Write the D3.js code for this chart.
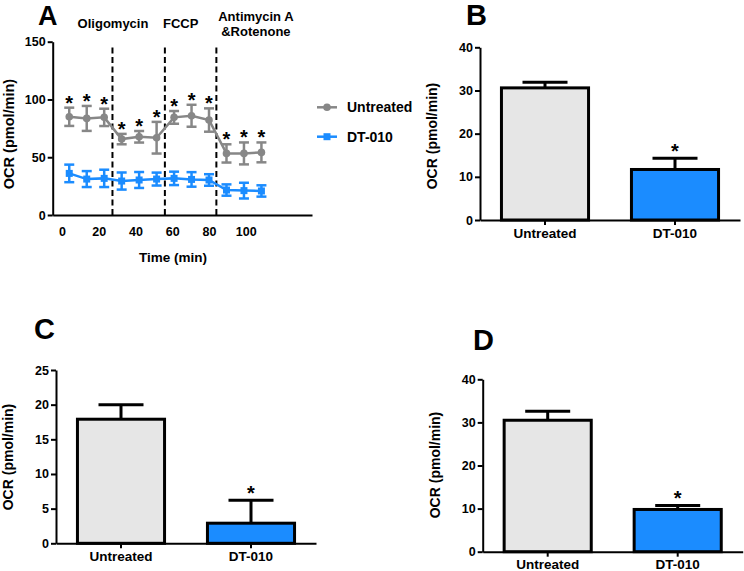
<!DOCTYPE html>
<html>
<head>
<meta charset="utf-8">
<script src="https://cdn.jsdelivr.net/npm/d3@7"></script>
<style>
  html, body { margin: 0; padding: 0; background: #fff; }
  svg { display: block; font-family: "Liberation Sans", Arial, sans-serif; font-weight: bold; }
</style>
</head>
<body>
<svg id="chart" width="744" height="571"></svg>
<script>
// ---------- Data ----------
// Panel A: time course
const times = [4, 13.5, 23, 32.5, 42, 51.5, 61, 70.5, 80, 89.5, 99, 108.5];
const untreatedMean = [85.0, 83.6, 84.5, 65.7, 67.7, 66.9, 84.5, 85.9, 82.2, 53.3, 53.3, 54.2];
const untreatedErr  = [7.9, 10.8, 7.5, 4.5, 5.0, 13.7, 5.5, 9.5, 10.1, 7.9, 9.5, 8.6];
const dt010Mean = [36.0, 31.1, 31.7, 29.4, 30.3, 31.1, 31.7, 30.8, 30.3, 21.6, 21.1, 20.8];
const dt010Err  = [7.6, 6.9, 7.5, 7.4, 6.9, 5.6, 5.8, 6.3, 5.0, 4.9, 6.8, 4.9];
const injectionTimes = [27.5, 56, 84];
const xTicksA = [0, 20, 40, 60, 80, 100];
const yTicksA = [0, 50, 100, 150];
const seriesNames = ["Untreated", "DT-010"];

// Panels B, C, D: bar charts
const groups = ["Untreated", "DT-010"];
const barsB = [30.6, 11.7];
const errB  = [1.3, 2.6];
const barsC = [17.9, 2.9];
const errC  = [2.1, 3.3];
const barsD = [30.5, 9.8];
const errD  = [2.1, 0.9];
const sigB = [false, true];
const sigC = [false, true];
const sigD = [false, true];
const yTicksB = [0, 10, 20, 30, 40];
const yTicksC = [0, 5, 10, 15, 20, 25];
const yTicksD = [0, 10, 20, 30, 40];

// ---------- Styles ----------
const GREY = "#878787";
const BLUE = "#1b8cff";
const BAR_GREY = "#e6e6e6";
const FONT = '"Liberation Sans", Arial, sans-serif';

const svg = d3.select("#chart");

function styleAxis(g, fontSize) {
  g.selectAll("path.domain").attr("stroke", "#000").attr("stroke-width", 2);
  g.selectAll(".tick line").attr("stroke", "#000").attr("stroke-width", 2);
  g.selectAll(".tick text").attr("fill", "#000").attr("font-family", FONT)
    .attr("font-weight", "bold").attr("font-size", fontSize);
}

function yTitle(cx, cy, size) {
  svg.append("text")
    .attr("transform", `translate(${cx},${cy}) rotate(-90)`)
    .attr("text-anchor", "middle")
    .attr("font-size", size)
    .text("OCR (pmol/min)");
}

function panelLetter(letter, x, y, size) {
  svg.append("text").attr("x", x).attr("y", y)
    .attr("font-size", size || 29).text(letter);
}

// ---------- Panel A ----------
(function () {
  const x = d3.scaleLinear().domain([-5, 136]).range([52.7, 312]);
  const y = d3.scaleLinear().domain([0, 150]).range([215, 41.7]);
  const g = svg.append("g");

  const xa = g.append("g").attr("transform", `translate(0,${y(0)})`)
    .call(d3.axisBottom(x).tickValues(xTicksA).tickSize(0).tickPadding(12).tickFormat(d3.format("d")));
  styleAxis(xa, 12.5);
  const ya = g.append("g").attr("transform", `translate(${x(-5)},0)`)
    .call(d3.axisLeft(y).tickValues(yTicksA).tickSize(5).tickSizeOuter(0).tickPadding(2));
  styleAxis(ya, 12.5);

  // injection lines
  g.selectAll("line.inj").data(injectionTimes).enter().append("line")
    .attr("x1", d => x(d)).attr("x2", d => x(d))
    .attr("y1", y(0)).attr("y2", 47)
    .attr("stroke", "#000").attr("stroke-width", 2).attr("stroke-dasharray", "6,3.5");

  // injection labels
  const lab = [
    {t: "Oligomycin", at: 27.8, yy: 28},
    {t: "FCCP", at: 64.6, yy: 28},
    {t: "Antimycin A", at: 105.5, yy: 21},
    {t: "&Rotenone", at: 105.5, yy: 36}
  ];
  g.selectAll("text.inj").data(lab).enter().append("text")
    .attr("x", d => x(d.at)).attr("y", d => d.yy)
    .attr("text-anchor", "middle").attr("font-size", 13).text(d => d.t);

  function drawSeries(means, errs, color, marker) {
    const pts = times.map((t, i) => ({t, m: means[i], e: errs[i]}));
    g.append("path").datum(pts)
      .attr("fill", "none").attr("stroke", color).attr("stroke-width", 2.5)
      .attr("d", d3.line().x(d => x(d.t)).y(d => y(d.m)));
    const eb = g.append("g").attr("stroke", color).attr("stroke-width", 2.5);
    pts.forEach(p => {
      eb.append("line").attr("x1", x(p.t)).attr("x2", x(p.t)).attr("y1", y(p.m - p.e)).attr("y2", y(p.m + p.e));
      eb.append("line").attr("x1", x(p.t) - 5).attr("x2", x(p.t) + 5).attr("y1", y(p.m - p.e)).attr("y2", y(p.m - p.e));
      eb.append("line").attr("x1", x(p.t) - 5).attr("x2", x(p.t) + 5).attr("y1", y(p.m + p.e)).attr("y2", y(p.m + p.e));
    });
    if (marker === "circle") {
      g.selectAll(null).data(pts).enter().append("circle")
        .attr("cx", d => x(d.t)).attr("cy", d => y(d.m)).attr("r", 3.8).attr("fill", color);
    } else {
      g.selectAll(null).data(pts).enter().append("rect")
        .attr("x", d => x(d.t) - 3.5).attr("y", d => y(d.m) - 3.5)
        .attr("width", 7).attr("height", 7).attr("fill", color);
    }
    return pts;
  }
  const up = drawSeries(untreatedMean, untreatedErr, GREY, "circle");
  drawSeries(dt010Mean, dt010Err, BLUE, "square");

  // significance asterisks
  g.selectAll("text.star").data(up).enter().append("text")
    .attr("x", d => x(d.t)).attr("y", d => y(d.m + d.e) + 2)
    .attr("text-anchor", "middle").attr("font-size", 20).text("*");

  // x title
  g.append("text").attr("x", 173).attr("y", 262).attr("text-anchor", "middle")
    .attr("font-size", 13.5).text("Time (min)");

  // legend
  const leg = g.append("g");
  const ly = [107.3, 136.7];
  [GREY, BLUE].forEach((c, i) => {
    leg.append("line").attr("x1", 317).attr("x2", 337).attr("y1", ly[i]).attr("y2", ly[i])
      .attr("stroke", c).attr("stroke-width", 2.5);
    if (i === 0) leg.append("circle").attr("cx", 327).attr("cy", ly[i]).attr("r", 3.8).attr("fill", c);
    else leg.append("rect").attr("x", 323.5).attr("y", ly[i] - 3.5).attr("width", 7).attr("height", 7).attr("fill", c);
    leg.append("text").attr("x", 347).attr("y", ly[i] + 5).attr("font-size", 14).text(seriesNames[i]);
  });

  yTitle(14, 134, 14.5);
  panelLetter("A", 38, 24.5, 27);
})();

// ---------- Bar panels ----------
function barPanel(opts) {
  const {values, errors, sig, ticks, yMax, x0, yBottom, yTop, letter, letterPos, titlePos} = opts;
  const x = d3.scaleBand().domain(groups).range([x0, x0 + 260]).paddingInner(0.33).paddingOuter(0.165);
  const y = d3.scaleLinear().domain([0, yMax]).range([yBottom, yTop]);
  const g = svg.append("g");
  const colors = [BAR_GREY, BLUE];

  // error bars (upper only)
  groups.forEach((k, i) => {
    const cx = x(k) + x.bandwidth() / 2;
    g.append("line").attr("x1", cx).attr("x2", cx)
      .attr("y1", y(values[i])).attr("y2", y(values[i] + errors[i]))
      .attr("stroke", "#000").attr("stroke-width", 3);
    g.append("line").attr("x1", cx - 22.5).attr("x2", cx + 22.5)
      .attr("y1", y(values[i] + errors[i])).attr("y2", y(values[i] + errors[i]))
      .attr("stroke", "#000").attr("stroke-width", 3);
    if (sig[i]) {
      g.append("text").attr("x", cx).attr("y", y(values[i] + errors[i]) - 0.5)
        .attr("text-anchor", "middle").attr("font-size", 20).text("*");
    }
  });

  g.selectAll("rect.bar").data(groups).enter().append("rect")
    .attr("x", d => x(d)).attr("width", x.bandwidth())
    .attr("y", (d, i) => y(values[i])).attr("height", (d, i) => y(0) - y(values[i]))
    .attr("fill", (d, i) => colors[i]).attr("stroke", "#000").attr("stroke-width", 3);

  const xa = g.append("g").attr("transform", `translate(0,${y(0)})`)
    .call(d3.axisBottom(x).tickSize(5).tickSizeOuter(0).tickPadding(3));
  styleAxis(xa, 13.5);
  const ya = g.append("g").attr("transform", `translate(${x0},0)`)
    .call(d3.axisLeft(y).tickValues(ticks).tickSize(5).tickSizeOuter(0).tickPadding(2));
  styleAxis(ya, 12.5);

  yTitle(titlePos[0], titlePos[1], 14);
  panelLetter(letter, letterPos[0], letterPos[1]);
}

barPanel({values: barsB, errors: errB, sig: sigB, ticks: yTicksB, yMax: 40,
  x0: 480, yBottom: 220, yTop: 47.3, letter: "B", letterPos: [466, 25], titlePos: [437, 136]});
barPanel({values: barsC, errors: errC, sig: sigC, ticks: yTicksC, yMax: 25,
  x0: 56, yBottom: 543.3, yTop: 370, letter: "C", letterPos: [34, 339], titlePos: [13, 457]});
barPanel({values: barsD, errors: errD, sig: sigD, ticks: yTicksD, yMax: 40,
  x0: 482.7, yBottom: 551.7, yTop: 379.3, letter: "D", letterPos: [473, 350], titlePos: [440, 465]});
</script>
</body>
</html>
